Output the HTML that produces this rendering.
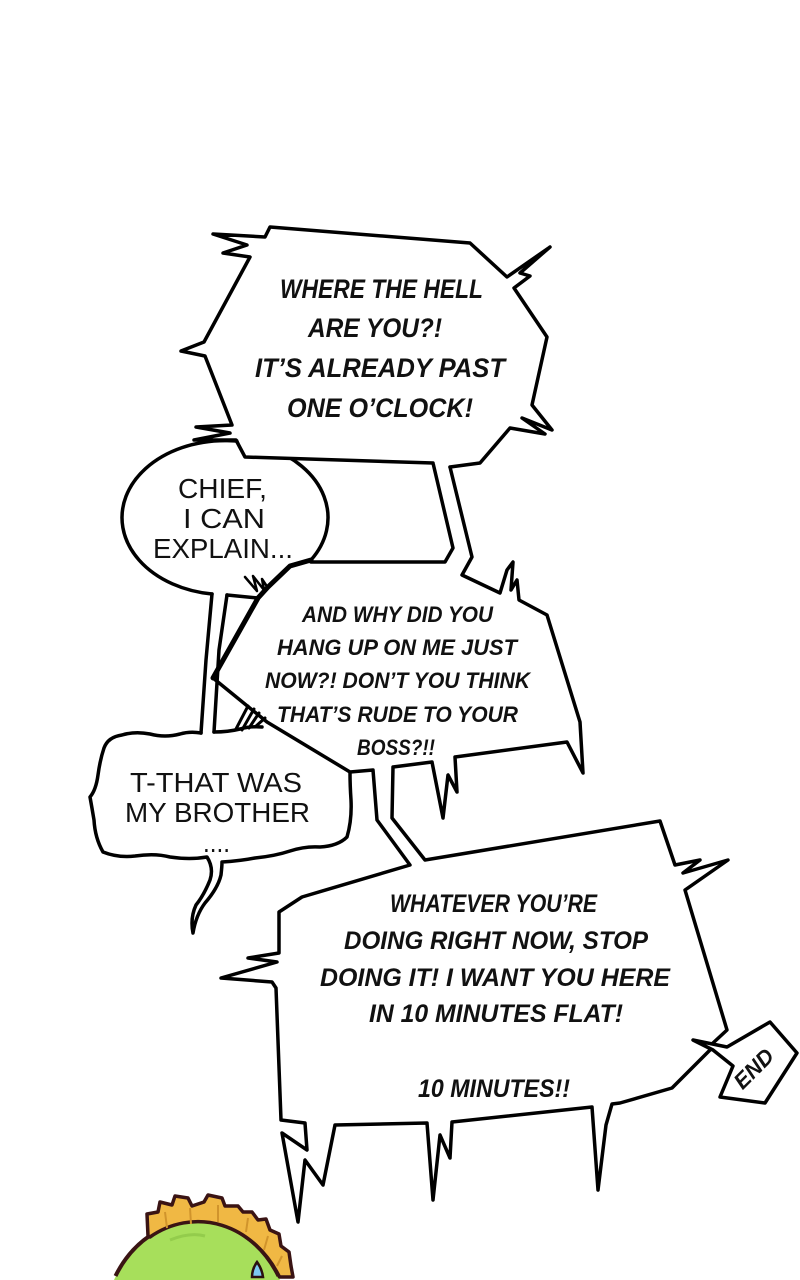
<!DOCTYPE html>
<html>
<head>
<meta charset="utf-8">
<style>
html,body{margin:0;padding:0;background:#fff;overflow:hidden;}
body{width:800px;height:1280px;overflow:hidden;}
svg{display:block;overflow:hidden;}
.sh{font-family:"Liberation Sans",sans-serif;font-weight:bold;font-style:italic;fill:#111;}
.ch{font-family:"Liberation Sans",sans-serif;font-weight:normal;fill:#111;}
</style>
</head>
<body>
<svg width="800" height="1280" viewBox="0 0 800 1280" overflow="hidden" xmlns="http://www.w3.org/2000/svg">
<rect width="800" height="1280" fill="#fff"/>

<!-- character head -->
<path d="M114,1280 A94,110 0 0 1 280,1280 Z" fill="#a7df5b"/>
<path d="M115.5,1276 A94,110 0 0 1 278.5,1276" fill="none" stroke="#3a1414" stroke-width="4" stroke-linecap="butt"/>
<path d="M170,1240 Q190,1232 205,1236" fill="none" stroke="#93cc4c" stroke-width="3"/>
<path d="M148,1236 L147,1214 L158,1212 L160,1202 L172,1205 L175,1196 L188,1198 L192,1206 L204,1202 L208,1195 L222,1198 L225,1206 L238,1206 L243,1212 L252,1212 L258,1220 L266,1219 L270,1230 L279,1234 L281,1246 L289,1252 L291,1266 L293,1277 L279.5,1277 A94,110 0 0 0 150,1237 Z" fill="#f0b844" stroke="#3a1414" stroke-width="3.5" stroke-linejoin="round"/>
<g stroke="#d0942c" stroke-width="2" fill="none">
<path d="M165,1212 L167,1228"/><path d="M190,1208 L191,1224"/><path d="M218,1205 L218,1222"/><path d="M248,1218 L246,1232"/><path d="M268,1236 L264,1250"/><path d="M282,1256 L277,1266"/>
</g>
<path d="M257,1262 Q262,1269 263,1277 L252,1277 Q252,1269 257,1262 Z" fill="#7cc8f0" stroke="#2a1010" stroke-width="2.5"/>

<g fill="none" stroke="#000" stroke-width="3.5" stroke-linejoin="round" stroke-linecap="round">
<!-- chief ellipse -->
<path d="M311,560 A103,77 0 1 0 212,594"/>
<!-- chief tail -->
<path d="M212,594 L206,660 L201,733"/>
<path d="M227,595 L219,650 L214,732"/>
<path d="M227,595 L258,598"/>
<path d="M245,577 L257,591 L253,576 L264,590 L262,579 L268,588" stroke-width="2.5"/>

<!-- connector between bubble 1 and bubble 2 -->
<path d="M433,463 L453,548 L445,562 L311,562"/>

<!-- bubble 2 + bubble 3 outline -->
<path d="M450,467 L472,557 L462,575 L500,593 L507,570 L513,562 L511,590 L517,580 L519,600 L547,615 L580,722 L583,773 L567,742 L455,757 L457,792 L448,775 L443,818 L432,762 L393,767 L392,818 L425,860 L660,821 L675,865 L700,860 L683,873 L728,860 L685,890 L727,1030 L713,1043 L710,1050 L672,1088 L620,1103 L612,1104 L606,1125 L598,1190 L592,1107 L452,1122 L450,1158 L440,1135 L433,1200 L427,1123 L335,1125 L323,1185 L305,1160 L298,1222 L282,1133 L307,1150 L305,1123 L281,1120 L276,988 L272,982 L221,978 L277,962 L248,958 L279,953 L279,912 L302,897 L410,865 L377,820 L373,770 L350,772 L267,722 L213,678"/>
<path d="M213,678 L258,598 L268,587 L290,566 L311,560" stroke-width="5"/>

<!-- hatch marks -->
<path d="M236,729 L248,706 M242,730 L254,709 M249,728 L259,713 M255,727 L265,718" stroke-width="3"/>

<!-- T-THAT bubble -->
<path d="M262,727 Q250,726 240,729 Q228,732 214,732"/>
<path d="M201,733 Q190,731 180,734 Q165,738 150,734 Q135,731 122,735 Q108,737 104,748 Q100,760 98,775 Q96,790 90,797 Q92,808 94,820 Q95,838 103,852 Q118,858 135,856 Q155,853 170,857 Q190,860 207,857 Q214,868 210,880 Q204,895 196,905 Q190,918 193,933 Q196,915 205,903 Q218,888 221,875 Q222,866 222,862 Q240,861 255,858 Q275,856 290,851 Q305,846 320,847 Q338,846 347,837 Q352,820 351,800 Q350,785 350,773"/>
</g>

<!-- bubble 1 hexagon -->
<polygon points="245,457 433,463 450,467 480,463 510,428 532,405 547,337 513,287 470,243 270,227 250,257 204,342 205,356" fill="#fff"/>
<path d="M433,463 L245,457 L236,440 L194,440 L230,433 L196,427 L232,425 L205,356 L181,351 L204,342 L250,257 L223,253 L247,245 L213,234 L265,237 L270,227 L470,243 L507,277 L550,247 L520,273 L530,276 L514,288 L547,337 L532,405 L552,430 L522,418 L545,434 L510,428 L480,463 L450,467" fill="none" stroke="#000" stroke-width="3.5" stroke-linejoin="round" stroke-linecap="round"/>

<!-- END tag -->
<polygon points="727,1047 770,1022 797,1053 765,1103 720,1097 733,1066 713,1050 693,1040" fill="#fff" stroke="#000" stroke-width="3.5" stroke-linejoin="round"/>
<text class="sh" x="0" y="0" font-size="22" text-anchor="middle" transform="translate(759,1074) rotate(-45)">END</text>

<!-- bubble 1 text -->
<text class="sh" font-size="27" text-anchor="middle" x="381.5" y="298" textLength="203" lengthAdjust="spacingAndGlyphs">WHERE THE HELL</text>
<text class="sh" font-size="27" text-anchor="middle" x="375" y="337" textLength="134" lengthAdjust="spacingAndGlyphs">ARE YOU?!</text>
<text class="sh" font-size="27" text-anchor="middle" x="380" y="377" textLength="250" lengthAdjust="spacingAndGlyphs">IT’S ALREADY PAST</text>
<text class="sh" font-size="27" text-anchor="middle" x="380" y="417" textLength="186" lengthAdjust="spacingAndGlyphs">ONE O’CLOCK!</text>

<!-- chief text -->
<text class="ch" font-size="28" text-anchor="middle" x="222.5" y="498" textLength="89" lengthAdjust="spacingAndGlyphs">CHIEF,</text>
<text class="ch" font-size="28" text-anchor="middle" x="224" y="528" textLength="82" lengthAdjust="spacingAndGlyphs">I CAN</text>
<text class="ch" font-size="28" text-anchor="middle" x="223" y="558" textLength="140" lengthAdjust="spacingAndGlyphs">EXPLAIN...</text>

<!-- bubble 2 text -->
<text class="sh" font-size="22" text-anchor="middle" x="397.5" y="622" textLength="191" lengthAdjust="spacingAndGlyphs">AND WHY DID YOU</text>
<text class="sh" font-size="22" text-anchor="middle" x="397" y="655" textLength="240" lengthAdjust="spacingAndGlyphs">HANG UP ON ME JUST</text>
<text class="sh" font-size="22" text-anchor="middle" x="397.5" y="688" textLength="265" lengthAdjust="spacingAndGlyphs">NOW?! DON’T YOU THINK</text>
<text class="sh" font-size="22" text-anchor="middle" x="397.5" y="722" textLength="241" lengthAdjust="spacingAndGlyphs">THAT’S RUDE TO YOUR</text>
<text class="sh" font-size="22" text-anchor="middle" x="396" y="755" textLength="78" lengthAdjust="spacingAndGlyphs">BOSS?!!</text>

<!-- T-THAT text -->
<text class="ch" font-size="28" text-anchor="middle" x="216" y="792" textLength="172" lengthAdjust="spacingAndGlyphs">T-THAT WAS</text>
<text class="ch" font-size="28" text-anchor="middle" x="217.5" y="822" textLength="185" lengthAdjust="spacingAndGlyphs">MY BROTHER</text>
<text class="ch" font-size="28" text-anchor="middle" x="216.5" y="852" textLength="27" lengthAdjust="spacingAndGlyphs">....</text>

<!-- bubble 3 text -->
<text class="sh" font-size="25" text-anchor="middle" x="493.5" y="912" textLength="207" lengthAdjust="spacingAndGlyphs">WHATEVER YOU’RE</text>
<text class="sh" font-size="25" text-anchor="middle" x="496" y="949" textLength="304" lengthAdjust="spacingAndGlyphs">DOING RIGHT NOW, STOP</text>
<text class="sh" font-size="25" text-anchor="middle" x="495" y="986" textLength="350" lengthAdjust="spacingAndGlyphs">DOING IT! I WANT YOU HERE</text>
<text class="sh" font-size="25" text-anchor="middle" x="496" y="1022" textLength="254" lengthAdjust="spacingAndGlyphs">IN 10 MINUTES FLAT!</text>
<text class="sh" font-size="25" text-anchor="middle" x="494" y="1097" textLength="152" lengthAdjust="spacingAndGlyphs">10 MINUTES!!</text>
</svg>
</body>
</html>
